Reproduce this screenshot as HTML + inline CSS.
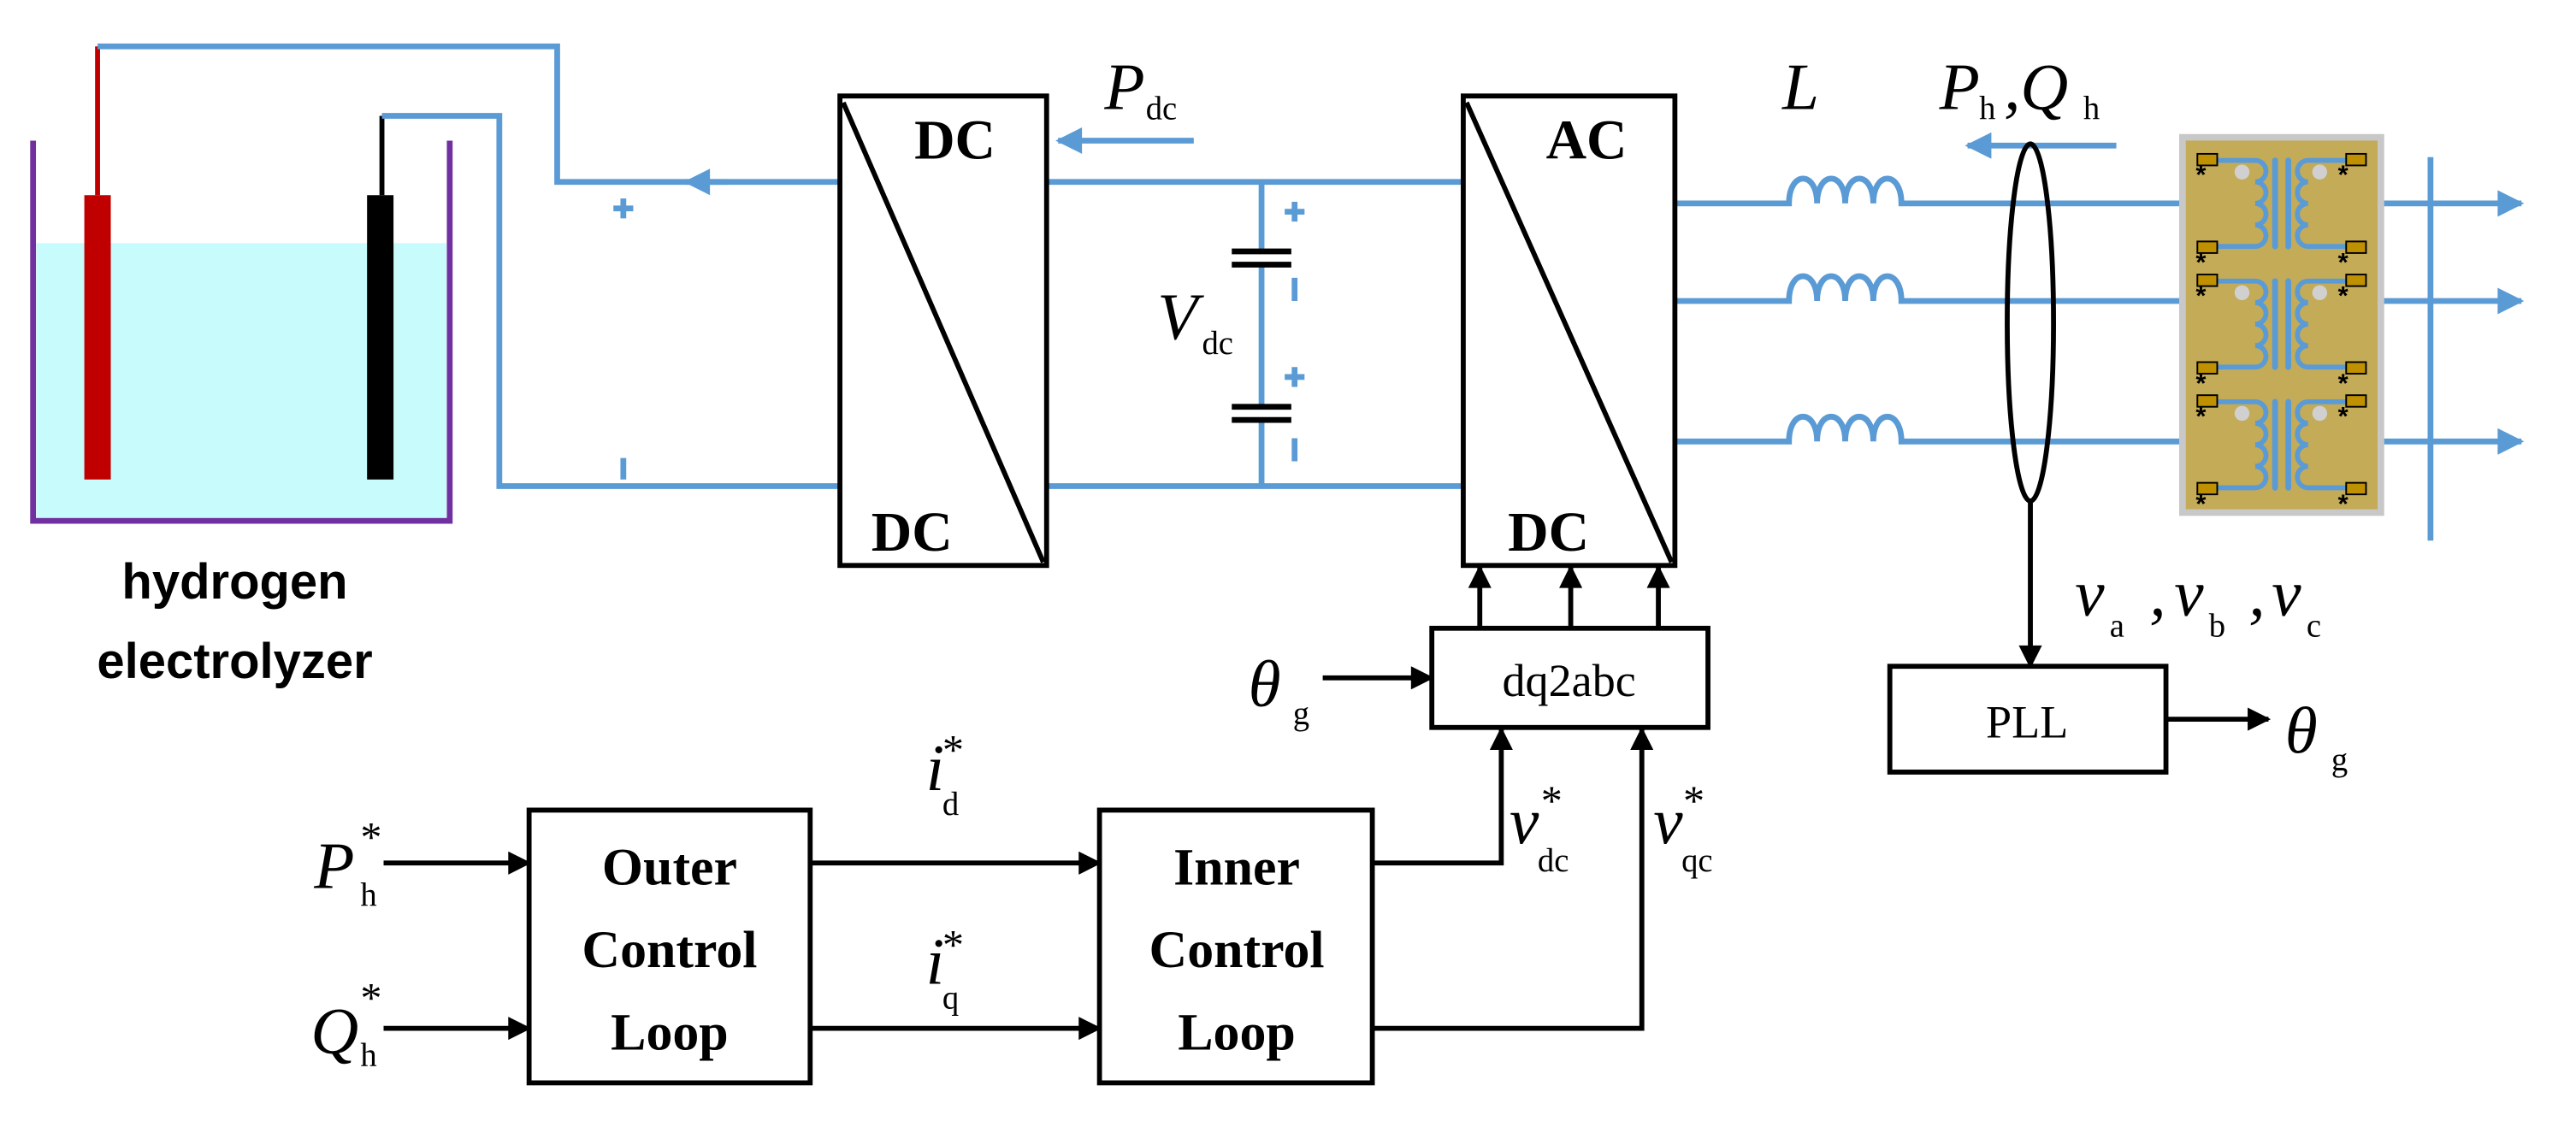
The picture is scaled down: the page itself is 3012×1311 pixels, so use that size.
<!DOCTYPE html>
<html><head><meta charset="utf-8"><style>html,body{margin:0;padding:0;background:#fff}svg{display:block}</style></head><body>
<svg width="3012" height="1311" viewBox="0 0 1558 678" xmlns="http://www.w3.org/2000/svg" font-family="Liberation Serif, serif">
<defs>
<marker id="ak" viewBox="0 0 10 10" refX="9" refY="5" markerWidth="16" markerHeight="14" orient="auto" markerUnits="userSpaceOnUse"><path d="M0,0 L10,5 L0,10z" fill="#000"/></marker>
<marker id="bl" viewBox="0 0 10 10" refX="9" refY="5" markerWidth="22" markerHeight="16" orient="auto" markerUnits="userSpaceOnUse"><path d="M0,0 L10,5 L0,10z" fill="#5b9bd5"/></marker>
<g id="ph">
<path d="M1333,0 H1356 a6.5,6.5 0 0 1 0,13 a6.5,6.5 0 0 1 0,13 a6.5,6.5 0 0 1 0,13 a6.5,6.5 0 0 1 0,13 H1333" fill="none" stroke="#5b9bd5" stroke-width="3"/>
<path d="M1423,0 H1388 a6.5,6.5 0 0 0 0,13 a6.5,6.5 0 0 0 0,13 a6.5,6.5 0 0 0 0,13 a6.5,6.5 0 0 0 0,13 H1423" fill="none" stroke="#5b9bd5" stroke-width="3"/>
<path d="M1368,0 V52 M1376,0 V52" stroke="#5b9bd5" stroke-width="3.5" stroke-linecap="round"/>
<circle cx="1348" cy="7" r="4.5" fill="#d0d0d0"/><circle cx="1395" cy="7" r="4.5" fill="#d0d0d0"/>
<rect x="1321" y="-4" width="12" height="7" fill="#bf9000" stroke="#000" stroke-width="1"/>
<rect x="1411" y="-4" width="12" height="7" fill="#bf9000" stroke="#000" stroke-width="1"/>
<rect x="1321" y="49" width="12" height="7" fill="#bf9000" stroke="#000" stroke-width="1"/>
<rect x="1411" y="49" width="12" height="7" fill="#bf9000" stroke="#000" stroke-width="1"/>
<g font-size="16" font-weight="bold" font-family="Liberation Sans, sans-serif" fill="#000">
<text x="1320" y="14">*</text><text x="1406" y="14">*</text><text x="1320" y="67">*</text><text x="1406" y="67">*</text>
</g>
</g>
</defs>
<!-- tank -->
<rect x="22" y="147" width="248" height="166" fill="#c8fcfc"/>
<path d="M20,85 V315 H272 V85" fill="none" stroke="#7030a0" stroke-width="3.5"/>
<line x1="59" y1="28" x2="59" y2="118" stroke="#c00000" stroke-width="3"/>
<rect x="51" y="118" width="16" height="172" fill="#c00000"/>
<line x1="231" y1="70" x2="231" y2="118" stroke="#000" stroke-width="3"/>
<rect x="222" y="118" width="16" height="172" fill="#000"/>
<g stroke="#5b9bd5" stroke-width="3.5" fill="none">
<path d="M59,28 H337 V110 H508"/>
<path d="M231,70 H302 V294 H508"/>
<path d="M633,110 H885 M633,294 H885 M763,110 V152 M763,160 V246 M763,254 V294"/>
<path d="M745,152 H781 M745,160 H781 M745,246 H781 M745,254 H781" stroke="#000" stroke-width="3.5"/>
<path d="M371,126 H383 M377,120 V132 M377,277 V290"/>
<path d="M777,128 H789 M783,122 V134 M783,168 V182 M777,228 H789 M783,222 V234 M783,265 V279"/>
<line x1="722" y1="85" x2="640" y2="85" marker-end="url(#bl)"/>
<line x1="1280" y1="88" x2="1190" y2="88" marker-end="url(#bl)"/>
<line x1="440" y1="110" x2="415" y2="110" marker-end="url(#bl)"/>
<path d="M1013,123 H1082 c0,-20 17,-20 17,0 c0,-20 17,-20 17,0 c0,-20 17,-20 17,0 c0,-20 17,-20 17,0 H1320"/>
<path d="M1013,182 H1082 c0,-20 17,-20 17,0 c0,-20 17,-20 17,0 c0,-20 17,-20 17,0 c0,-20 17,-20 17,0 H1320"/>
<path d="M1013,267 H1082 c0,-20 17,-20 17,0 c0,-20 17,-20 17,0 c0,-20 17,-20 17,0 c0,-20 17,-20 17,0 H1320"/>
<line x1="1440" y1="123" x2="1525" y2="123" marker-end="url(#bl)"/>
<line x1="1440" y1="182" x2="1525" y2="182" marker-end="url(#bl)"/>
<line x1="1440" y1="267" x2="1525" y2="267" marker-end="url(#bl)"/>
<line x1="1470" y1="95" x2="1470" y2="327"/>
</g>
<!-- transformer -->
<rect x="1320" y="83" width="120" height="227" fill="#c4ab58" stroke="#c8c8c8" stroke-width="4"/>
<use href="#ph" transform="translate(8,97)"/>
<use href="#ph" transform="translate(8,170)"/>
<use href="#ph" transform="translate(8,243)"/>
<!-- boxes -->
<g fill="none" stroke="#000" stroke-width="3">
<rect x="508" y="58" width="125" height="284"/><line x1="510" y1="62" x2="631" y2="340"/>
<rect x="885" y="58" width="128" height="284"/><line x1="887" y1="62" x2="1011" y2="340"/>
<ellipse cx="1228" cy="195" rx="14" ry="108"/>
<rect x="866" y="380" width="167" height="60"/>
<rect x="1143" y="403" width="167" height="64"/>
<rect x="320" y="490" width="170" height="165"/>
<rect x="665" y="490" width="165" height="165"/>
<line x1="1228" y1="303" x2="1228" y2="403" marker-end="url(#ak)"/>
<line x1="1310" y1="435" x2="1372" y2="435" marker-end="url(#ak)"/>
<line x1="800" y1="410" x2="866" y2="410" marker-end="url(#ak)"/>
<line x1="895" y1="380" x2="895" y2="343" marker-end="url(#ak)"/>
<line x1="950" y1="380" x2="950" y2="343" marker-end="url(#ak)"/>
<line x1="1003" y1="380" x2="1003" y2="343" marker-end="url(#ak)"/>
<line x1="232" y1="522" x2="320" y2="522" marker-end="url(#ak)"/>
<line x1="232" y1="622" x2="320" y2="622" marker-end="url(#ak)"/>
<line x1="490" y1="522" x2="665" y2="522" marker-end="url(#ak)"/>
<line x1="490" y1="622" x2="665" y2="622" marker-end="url(#ak)"/>
<polyline points="830,522 908,522 908,441" marker-end="url(#ak)"/>
<polyline points="830,622 993,622 993,441" marker-end="url(#ak)"/>
</g>
<!-- text -->
<g fill="#000">
<g font-weight="bold" font-size="34">
<text x="553" y="96">DC</text><text x="527" y="333">DC</text>
<text x="935" y="96">AC</text><text x="912" y="333">DC</text>
</g>
<g font-family="Liberation Sans, sans-serif" font-weight="bold" font-size="30" text-anchor="middle">
<text x="142" y="362">hydrogen</text><text x="142" y="410">electrolyzer</text>
</g>
<g font-weight="bold" font-size="32" text-anchor="middle">
<text x="405" y="535">Outer</text><text x="405" y="585">Control</text><text x="405" y="635">Loop</text>
<text x="748" y="535">Inner</text><text x="748" y="585">Control</text><text x="748" y="635">Loop</text>
</g>
<text x="949" y="421" font-size="28" text-anchor="middle">dq2abc</text>
<text x="1226" y="446" font-size="28" text-anchor="middle">PLL</text>
<g font-size="40" font-style="italic">
<text x="668" y="66">P</text><text x="1078" y="66">L</text>
<text x="1173" y="66">P</text><text x="1212" y="66">,Q</text>
<text x="700" y="205">V</text>
<text x="755" y="427">θ</text><text x="1382" y="455">θ</text>
<text x="1255" y="372">v</text><text x="1300" y="372">,</text><text x="1315" y="372">v</text><text x="1360" y="372">,</text><text x="1374" y="372">v</text>
<text x="190" y="537">P</text><text x="188" y="637">Q</text>
<text x="560" y="478">i</text><text x="560" y="595">i</text>
<text x="913" y="510">v</text><text x="1000" y="510">v</text>
</g>
<g font-size="20">
<text x="693" y="72">dc</text><text x="1197" y="72">h</text><text x="1260" y="72">h</text>
<text x="727" y="214">dc</text>
<text x="782" y="438">g</text><text x="1410" y="466">g</text>
<text x="1276" y="385">a</text><text x="1336" y="385">b</text><text x="1395" y="385">c</text>
<text x="218" y="548">h</text><text x="218" y="645">h</text>
<text x="570" y="493">d</text><text x="570" y="610">q</text>
<text x="930" y="527">dc</text><text x="1017" y="527">qc</text>
</g>
<g font-size="26">
<text x="218" y="515">*</text><text x="218" y="612">*</text>
<text x="570" y="462">*</text><text x="570" y="580">*</text>
<text x="932" y="493">*</text><text x="1018" y="493">*</text>
</g>
</g>
</svg>
</body></html>
